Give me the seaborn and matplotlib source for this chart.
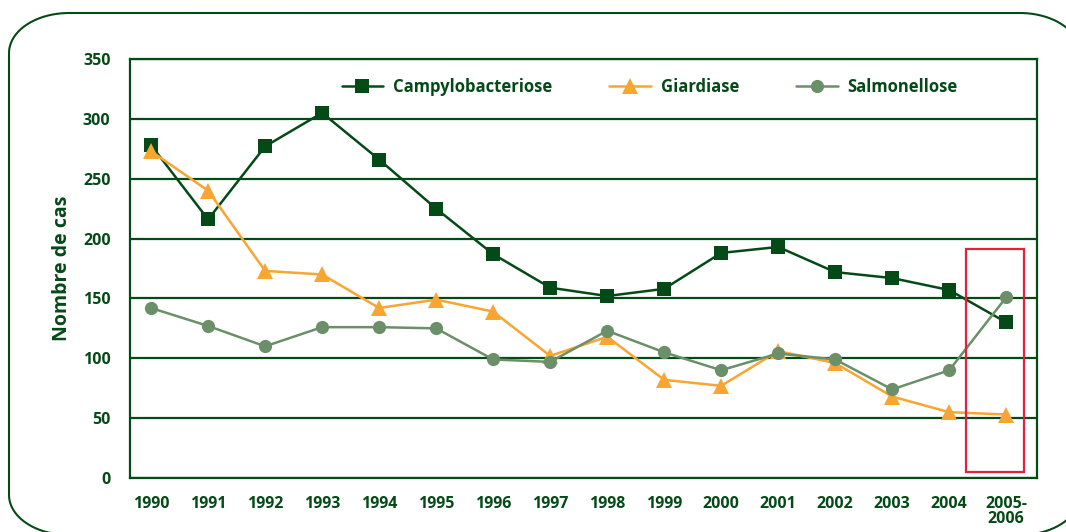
import matplotlib.pyplot as plt
import numpy as np
import pandas as pd
import seaborn as sns
from matplotlib.patches import Rectangle

years = ["1990", "1991", "1992", "1993", "1994", "1995", "1996", "1997",
         "1998", "1999", "2000", "2001", "2002", "2003", "2004", "2005-\n2006"]
campylo = [278, 216, 277, 305, 266, 225, 187, 159, 152, 158, 188, 193, 172, 167, 157, 130]
giardia = [273, 240, 173, 170, 142, 149, 139, 102, 118, 82, 77, 106, 96, 68, 55, 53]
salmo = [142, 127, 110, 126, 126, 125, 99, 97, 123, 105, 90, 104, 99, 74, 90, 151]

DARK = "#044a17"
ORANGE = "#f8a531"
SAGE = "#6b8f69"

series = [
    ("Campylobacteriose", campylo, DARK, "s", 10),
    ("Giardiase", giardia, ORANGE, "^", 11),
    ("Salmonellose", salmo, SAGE, "o", 9.5),
]

sns.set_style("white")
plt.rcParams["font.family"] = ["Open Sans", "DejaVu Sans"]
plt.rcParams["font.weight"] = "bold"

fig = plt.figure(figsize=(10.66, 5.32), dpi=100)


def rounded_frame(left, top, right, bottom, rx, ry, n=40):
    """Outline of a box with elliptical corners, in pixel coords (y down)."""
    corners = [
        (left + rx, top + ry, 180, 270),
        (right - rx, top + ry, 270, 360),
        (right - rx, bottom - ry, 0, 90),
        (left + rx, bottom - ry, 90, 180),
    ]
    xs, ys = [], []
    for cx, cy, a0, a1 in corners:
        t = np.radians(np.linspace(a0, a1, n))
        xs.extend(cx + rx * np.cos(t))
        ys.extend(cy + ry * np.sin(t))
    xs.append(xs[0])
    ys.append(ys[0])
    return xs, ys


# background axes in pixel units, only for the rounded frame
bg = fig.add_axes([0, 0, 1, 1])
bg.axis("off")
fx, fy = rounded_frame(9, 13, 1080, 535, 60, 40)
bg.plot(fx, fy, color=DARK, linewidth=1.5)
bg.set_xlim(0, 1066)
bg.set_ylim(532, 0)

ax = fig.add_axes([130 / 1066, 1 - 478 / 532, 907 / 1066, 419 / 532])

x = list(range(len(years)))
for name, vals, color, marker, ms in series:
    df = pd.DataFrame({"x": x, "y": vals})
    sns.lineplot(data=df, x="x", y="y", ax=ax, color=color, marker=marker,
                 markersize=ms, markeredgewidth=0, linewidth=1.8,
                 label=name, sort=False)

ax.set_xlim(-0.37, len(years) - 1 + 0.54)
ax.set_ylim(0, 350)
ax.set_yticks(range(0, 351, 50))
ax.yaxis.grid(True, color=DARK, linewidth=1.6)
ax.set_axisbelow(True)

ax.set_xticks(x)
ax.set_xticklabels(years, fontsize=11.5, fontweight="bold", color=DARK,
                   linespacing=0.95, va="top")
ax.tick_params(axis="x", length=0, pad=13)
ax.set_xticks([-0.37] + [i + 0.5 for i in x], minor=True)
ax.tick_params(axis="x", which="minor", length=6, width=1.5, color=DARK, direction="out")
ax.tick_params(axis="y", length=6, width=1.5, color=DARK, labelsize=11.5,
               labelcolor=DARK, pad=8)
for lab in ax.get_yticklabels():
    lab.set_fontweight("bold")

for side in ["left", "right", "top", "bottom"]:
    ax.spines[side].set_visible(True)
    ax.spines[side].set_color(DARK)
    ax.spines[side].set_linewidth(1.6)

ax.set_xlabel("")
ax.set_ylabel("Nombre de cas", fontsize=14, fontweight="bold", color=DARK, labelpad=8)

# highlight of the last period
ax.add_patch(Rectangle((14.3, 5), 1.02, 186, fill=False, edgecolor="#e2213f",
                       linewidth=1.6, zorder=5))

leg = ax.legend(loc="center", bbox_to_anchor=(0.573, 0.933), ncol=3, frameon=False,
                fontsize=12, columnspacing=3.4, handlelength=2.5, handletextpad=0.6)
for t in leg.get_texts():
    t.set_color(DARK)
    t.set_fontweight("bold")

fig.savefig("out.png", dpi=100)
